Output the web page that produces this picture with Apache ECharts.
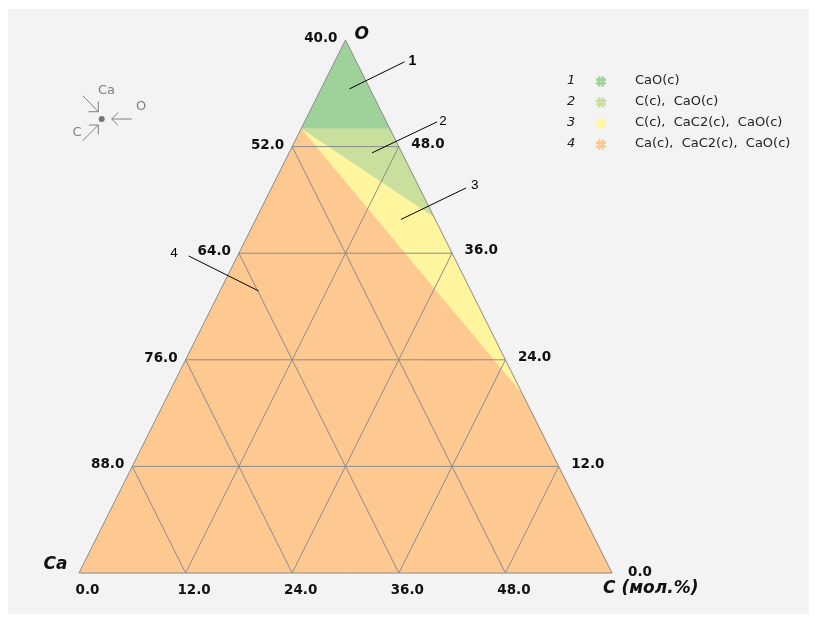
<!DOCTYPE html>
<html>
<head>
<meta charset="utf-8">
<title>Ca – C – O</title>
<script src="https://cdn.jsdelivr.net/npm/echarts/dist/echarts.min.js"></script>
<style>
  html, body { margin: 0; padding: 0; background: #ffffff; }
  #chart { width: 817px; height: 623px; }
</style>
</head>
<body>
<div id="chart"></div>
<script>
// Ternary section Ca–C–O (mol.%), Ca >= 40. Points are given as [C, O]; Ca = 100 - C - O.
const SPAN = 60;
const phaseNames = ['CaO(c)', 'C(c),  CaO(c)', 'C(c),  CaC2(c),  CaO(c)', 'Ca(c),  CaC2(c),  CaO(c)'];
const phaseFields = [
  [[0, 50], [10, 50], [0, 60]],
  [[0, 50], [10, 50], [20, 40]],
  [[0, 50], [20, 40], [40, 20]],
  [[0, 50], [40, 20], [60, 0], [0, 0]]
];
const fieldMarks = [[3.2, 54.5], [9.35, 47.3], [16.35, 39.8], [4.35, 31.75]];
const gridSteps = [12, 24, 36, 48];
const leftTicks = [40, 52, 64, 76, 88];   // Ca along the O–Ca edge
const rightTicks = [48, 36, 24, 12, 0];   // O along the O–C edge
const bottomTicks = [0, 12, 24, 36, 48];  // C along the Ca–C edge

const fieldColors = ['#9fd19b', '#c9df9e', '#fff59f', '#fec891'];
const lineColor = '#8c8c8c';
const tickFont = 'bold 13.5px "DejaVu Sans"';
const titleFont = 'italic bold 17px "DejaVu Sans"';

// [C, O] -> plane coordinates of the isosceles triangle
const toXY = (c, o) => [c + o / 2, o];
const pt = (api, c, o) => api.coord(toXY(c, o));

const gridLines = [];
gridSteps.forEach(s => {
  gridLines.push([0, s, SPAN - s, s]); // constant O
  gridLines.push([s, 0, s, SPAN - s]); // constant C
  gridLines.push([s, 0, 0, s]);        // constant Ca
});

// leader offsets (px) of the field callouts and their number labels
const leaderEnds = [[55, -27], [65, -31], [65, -31.5], [-70, -35]];
const leaderLabels = [
  { dx: 4, dy: -0.5, align: 'left', font: 'bold 14px "Liberation Sans"' },
  { dx: 2, dy: -1, align: 'left', font: '13.5px "Liberation Sans"' },
  { dx: 5, dy: -3, align: 'left', font: '13.5px "Liberation Sans"' },
  { dx: -11, dy: -2.5, align: 'right', font: '13.5px "Liberation Sans"' }
];

const chart = echarts.init(document.getElementById('chart'));

const legendGraphics = [];
const legendTop = 81.5, legendStep = 21;
phaseNames.forEach((name, i) => {
  const y = legendTop + i * legendStep;
  legendGraphics.push({
    type: 'text', left: 567, top: y - 7,
    style: { text: String(i + 1), font: 'italic 13px "DejaVu Sans"', fill: '#222' }
  });
  const c = fieldColors[i];
  const x0 = 596, y0 = y - 5;
  [[2, 0, 2.5, 10], [5.5, 0, 2.5, 10], [0, 2, 10, 2.5], [0, 5.5, 10, 2.5]].forEach(b => {
    legendGraphics.push({
      type: 'rect', shape: { x: x0 + b[0], y: y0 + b[1], width: b[2], height: b[3] },
      style: { fill: c }
    });
  });
  legendGraphics.push({
    type: 'text', left: 635, top: y - 7.5,
    style: { text: name, font: '13px "DejaVu Sans"', fill: '#222' }
  });
});

// small orientation sign at the upper left
const gray = '#808080';
const seg = (x1, y1, x2, y2) => ({ type: 'line', shape: { x1, y1, x2, y2 }, style: { stroke: gray, lineWidth: 1 } });
const signGraphics = [
  { type: 'circle', shape: { cx: 101.7, cy: 119, r: 3 }, style: { fill: '#777' } },
  seg(82.7, 95.7, 98.3, 111.7), seg(88.5, 111.7, 98.3, 111.7), seg(98.3, 101.5, 98.3, 111.7),
  seg(131.7, 119, 111.7, 119), seg(111.7, 119, 118, 112.7), seg(111.7, 119, 118, 125.3),
  seg(82.7, 140.7, 98.3, 125), seg(89, 125, 98.3, 125), seg(98.3, 125, 98.3, 134.5),
  { type: 'text', left: 98, top: 84, style: { text: 'Ca', font: '13px "DejaVu Sans"', fill: gray } },
  { type: 'text', left: 136, top: 100.5, style: { text: 'O', font: '13px "DejaVu Sans"', fill: gray } },
  { type: 'text', left: 72.5, top: 126, style: { text: 'C', font: '13px "DejaVu Sans"', fill: gray } }
];

const option = {
  backgroundColor: '#ffffff',
  animation: false,
  grid: { left: 79, top: 40, width: 533, height: 533 },
  xAxis: { type: 'value', min: 0, max: SPAN, show: false },
  yAxis: { type: 'value', min: 0, max: SPAN, show: false },
  graphic: [
    { type: 'rect', z: -10, shape: { x: 8, y: 9, width: 801, height: 605 }, style: { fill: '#f3f3f3' } },
    ...legendGraphics,
    ...signGraphics
  ],
  series: [
    {
      // phase fields
      type: 'custom', coordinateSystem: 'cartesian2d', silent: true, clip: false, z: 1,
      data: phaseFields.map((f, i) => [f[0][0], f[0][1], i]),
      renderItem: (params, api) => {
        const i = params.dataIndex;
        return {
          type: 'polygon',
          shape: { points: phaseFields[i].map(p => pt(api, p[0], p[1])) },
          style: { fill: fieldColors[i], stroke: fieldColors[i], lineWidth: 0.5 }
        };
      }
    },
    {
      // grid lines
      type: 'custom', coordinateSystem: 'cartesian2d', silent: true, clip: false, z: 2,
      data: gridLines,
      renderItem: (params, api) => {
        const a = pt(api, api.value(0), api.value(1));
        const b = pt(api, api.value(2), api.value(3));
        return {
          type: 'line',
          shape: { x1: a[0], y1: a[1], x2: b[0], y2: b[1] },
          style: { stroke: lineColor, lineWidth: 1 }
        };
      }
    },
    {
      // triangle outline
      type: 'custom', coordinateSystem: 'cartesian2d', silent: true, clip: false, z: 3,
      data: [[0, 0]],
      renderItem: (params, api) => ({
        type: 'polygon',
        shape: { points: [pt(api, 0, 0), pt(api, SPAN, 0), pt(api, 0, SPAN)] },
        style: { fill: 'none', stroke: lineColor, lineWidth: 1 }
      })
    },
    {
      // field callouts
      type: 'custom', coordinateSystem: 'cartesian2d', silent: true, clip: false, z: 4,
      data: fieldMarks,
      renderItem: (params, api) => {
        const i = params.dataIndex;
        const a = pt(api, api.value(0), api.value(1));
        const e = [a[0] + leaderEnds[i][0], a[1] + leaderEnds[i][1]];
        const L = leaderLabels[i];
        return {
          type: 'group',
          children: [
            { type: 'line', shape: { x1: a[0], y1: a[1], x2: e[0], y2: e[1] }, style: { stroke: '#000', lineWidth: 1 } },
            {
              type: 'text', x: e[0] + L.dx, y: e[1] + L.dy,
              style: { text: String(i + 1), font: L.font, fill: '#000', align: L.align, verticalAlign: 'middle' }
            }
          ]
        };
      }
    },
    {
      // tick labels, left edge (Ca)
      type: 'custom', coordinateSystem: 'cartesian2d', silent: true, clip: false, z: 5,
      data: leftTicks.map(v => [0, 100 - v, v]),
      renderItem: (params, api) => {
        const p = pt(api, api.value(0), api.value(1));
        return {
          type: 'text', x: p[0] - 8, y: p[1] - 1.5,
          style: { text: api.value(2).toFixed(1), font: tickFont, fill: '#111', align: 'right', verticalAlign: 'middle' }
        };
      }
    },
    {
      // tick labels, right edge (O)
      type: 'custom', coordinateSystem: 'cartesian2d', silent: true, clip: false, z: 5,
      data: rightTicks.map(v => [SPAN - v, v]),
      renderItem: (params, api) => {
        const o = api.value(1);
        const p = pt(api, api.value(0), o);
        const dx = o === 0 ? 16 : 12.5, dy = o === 0 ? -1 : -2.3;
        return {
          type: 'text', x: p[0] + dx, y: p[1] + dy,
          style: { text: o.toFixed(1), font: tickFont, fill: '#111', align: 'left', verticalAlign: 'middle' }
        };
      }
    },
    {
      // tick labels, bottom edge (C)
      type: 'custom', coordinateSystem: 'cartesian2d', silent: true, clip: false, z: 5,
      data: bottomTicks.map(v => [v, 0]),
      renderItem: (params, api) => {
        const c = api.value(0);
        const p = pt(api, c, 0);
        return {
          type: 'text', x: p[0] + 8.5, y: p[1] + 17.5,
          style: { text: c.toFixed(1), font: tickFont, fill: '#111', align: 'center', verticalAlign: 'middle' }
        };
      }
    },
    {
      // corner titles
      type: 'custom', coordinateSystem: 'cartesian2d', silent: true, clip: false, z: 5,
      data: [[0, SPAN], [0, 0], [SPAN, 0]],
      renderItem: (params, api) => {
        const p = pt(api, api.value(0), api.value(1));
        const cfg = [
          { text: 'O', dx: 9, dy: -5.5, align: 'left' },
          { text: 'Ca', dx: -35.5, dy: -8.5, align: 'left' },
          { text: 'C (мол.%)', dx: -9, dy: 16, align: 'left' }
        ][params.dataIndex];
        return {
          type: 'text', x: p[0] + cfg.dx, y: p[1] + cfg.dy,
          style: { text: cfg.text, font: titleFont, fill: '#111', align: cfg.align, verticalAlign: 'middle' }
        };
      }
    }
  ]
};

chart.setOption(option);
</script>
</body>
</html>
